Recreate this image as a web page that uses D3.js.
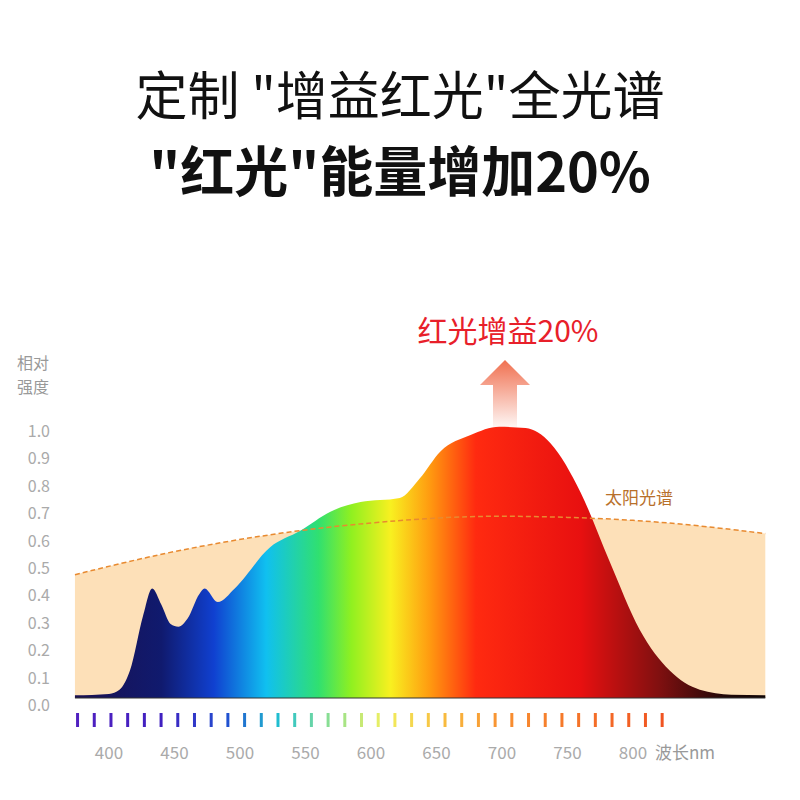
<!DOCTYPE html>
<html><head><meta charset="utf-8">
<script src="https://cdn.jsdelivr.net/npm/d3@7"></script>
<style>body{margin:0;background:#fff}</style></head>
<body><svg id="c" width="800" height="800"></svg>
<script>
const specNm=[374,400,408,416,426,433,440,447,453,460,469,473,483,496,523,546,569,592,622,637,653,676,698,718,737,760,782,805,828,851,875,901];
const specVal=[0.01,0.015,0.03,0.1,0.3,0.4,0.34,0.27,0.26,0.29,0.38,0.4,0.35,0.4,0.55,0.61,0.68,0.715,0.73,0.8,0.9,0.96,0.99,0.985,0.93,0.75,0.5,0.25,0.1,0.03,0.012,0.01];
const sunNm=[374,450,550,650,700,750,800,850,901];
const sunVal=[0.45,0.54,0.62,0.66,0.665,0.66,0.65,0.63,0.6];
const yTicks=[0,0.1,0.2,0.3,0.4,0.5,0.6,0.7,0.8,0.9,1.0];
const xTicks=[400,450,500,550,600,650,700,750,800];
const barNm=d3.range(376,830,12.75);
const gradStops=[[374,"#1a1050"],[440,"#101a6e"],[480,"#1040d0"],[520,"#10c0f0"],[560,"#30e070"],[585,"#90f020"],[615,"#f8f020"],[645,"#ff9a10"],[680,"#ff2a10"],[760,"#e81010"],[820,"#801010"],[870,"#200808"],[901,"#100505"]];

const svg=d3.select("#c");
const x=d3.scaleLinear().domain([400,800]).range([109,633]);
const y=d3.scaleLinear().domain([0,1]).range([698,424]);
const font="'Noto Sans CJK SC',sans-serif";

svg.append("text").attr("x",400).attr("y",115).attr("text-anchor","middle").attr("font-family",font).attr("font-size",52).attr("fill","#111").text('定制 "增益红光"全光谱');
svg.append("text").attr("x",400).attr("y",192).attr("text-anchor","middle").attr("font-family",font).attr("font-weight",700).attr("font-size",54).attr("fill","#111").text('"红光"能量增加20%');

const defs=svg.append("defs");
const g=defs.append("linearGradient").attr("id","sg").attr("gradientUnits","userSpaceOnUse").attr("x1",x(374)).attr("x2",x(901)).attr("y1",0).attr("y2",0);
gradStops.forEach(s=>g.append("stop").attr("offset",(x(s[0])-x(374))/(x(901)-x(374))).attr("stop-color",s[1]));
const ag=defs.append("linearGradient").attr("id","ag").attr("x1",0).attr("x2",0).attr("y1",0).attr("y2",1);
ag.append("stop").attr("offset",0).attr("stop-color","#f07050");
ag.append("stop").attr("offset",1).attr("stop-color","#f07050").attr("stop-opacity",0.05);

const sunLine=d3.line().x((d,i)=>x(sunNm[i])).y(d=>y(d)).curve(d3.curveBasis);
const sunArea=d3.area().x((d,i)=>x(sunNm[i])).y0(y(0)).y1(d=>y(d)).curve(d3.curveBasis);
svg.append("path").attr("d",sunArea(sunVal)).attr("fill","#fde0b8");
const specArea=d3.area().x((d,i)=>x(specNm[i])).y0(y(0)).y1(d=>y(d)).curve(d3.curveMonotoneX);
svg.append("path").attr("d",specArea(specVal)).attr("fill","url(#sg)");
svg.append("path").attr("d",sunLine(sunVal)).attr("fill","none").attr("stroke","#e88a30").attr("stroke-width",1.5).attr("stroke-dasharray","5,3");
svg.append("line").attr("x1",x(374)).attr("x2",x(901)).attr("y1",y(0)).attr("y2",y(0)).attr("stroke","#333").attr("stroke-width",1);

yTicks.forEach(v=>svg.append("text").attr("x",50).attr("y",y(v)+13).attr("text-anchor","end").attr("font-family",font).attr("font-size",16).attr("fill","#aaa").text(v.toFixed(1)));
svg.append("text").attr("x",17).attr("y",369).attr("font-family",font).attr("font-size",16).attr("fill","#999").text("相对");
svg.append("text").attr("x",17).attr("y",393).attr("font-family",font).attr("font-size",16).attr("fill","#999").text("强度");

const cs=d3.scaleLinear().domain([376,440,490,530,570,610,650,700,830]).range(["#5020c0","#4020c0","#2050d0","#20c0d0","#90e090","#f0f060","#f8c040","#f89030","#f05020"]);
svg.selectAll(".b").data(barNm).enter().append("rect").attr("x",d=>x(d)-1.5).attr("y",713).attr("width",3).attr("height",14).attr("fill",d=>cs(d));
xTicks.forEach(v=>svg.append("text").attr("x",x(v)).attr("y",759).attr("text-anchor","middle").attr("font-family",font).attr("font-size",17).attr("fill","#aaa").text(v));
svg.append("text").attr("x",655).attr("y",759).attr("font-family",font).attr("font-size",17).attr("fill","#999").text("波长nm");

svg.append("path").attr("d","M480,385 L505,360 L530,385 L517,385 L517,428 L493,428 L493,385 Z").attr("fill","url(#ag)");
svg.append("text").attr("x",508).attr("y",342).attr("text-anchor","middle").attr("font-family",font).attr("font-size",30).attr("fill","#e8202a").text("红光增益20%");
svg.append("text").attr("x",605).attr("y",504).attr("font-family",font).attr("font-size",17).attr("fill","#b8702a").text("太阳光谱");
</script></body></html>
